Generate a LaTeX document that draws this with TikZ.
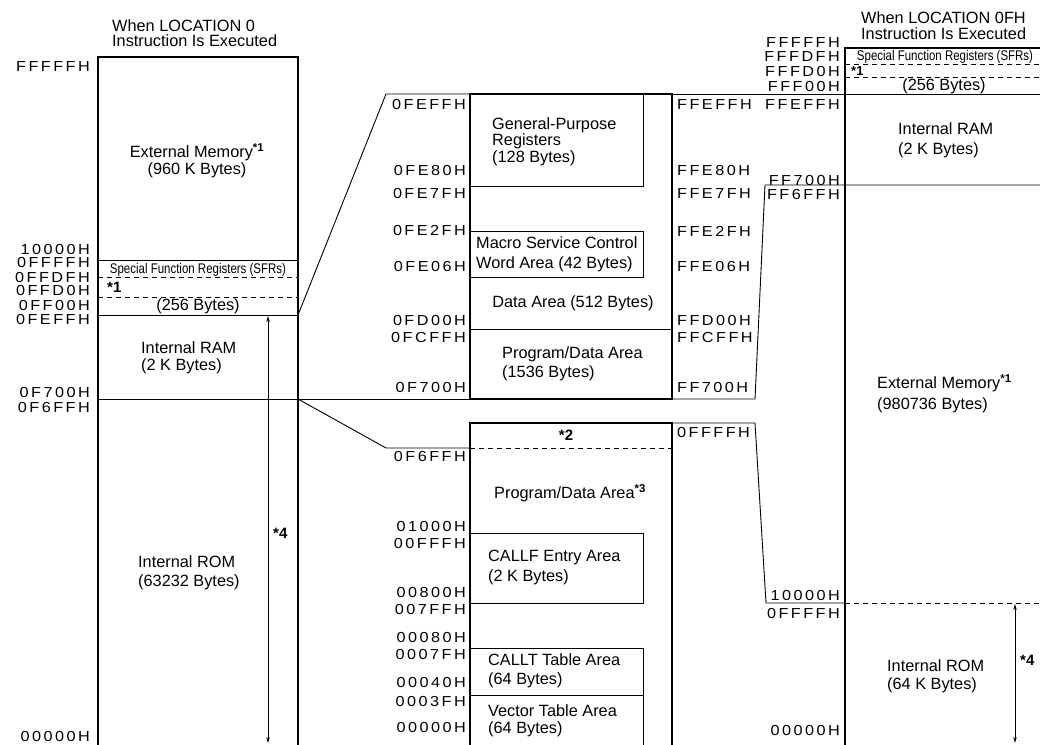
\documentclass[tikz,border=0pt]{standalone}
\usepackage{fontspec}
\setmainfont{Liberation Sans}
\newfontfamily\addrfont[LetterSpace=17, FakeStretch=1.12]{Liberation Sans}
\usetikzlibrary{arrows.meta}

\newcommand{\adfont}{\fontsize{14.5}{15}\addrfont}
\newcommand{\sfrtext}{\scalebox{0.82}[1]{Special Function Registers (SFRs)}}
\newcommand{\sups}[1]{\textsuperscript{\bfseries #1}}

\tikzset{
  mbox/.style={line width=1.8pt},
  rule/.style={line width=0.9pt},
  dashln/.style={line width=0.9pt, dash pattern=on 5pt off 4pt},
  addr/.style={font=\adfont, inner sep=0pt, anchor=east},
  addrw/.style={font=\adfont, inner sep=0pt, anchor=west},
  lbl/.style={font=\fontsize{16.3}{#1}\selectfont, inner sep=0pt, align=left, anchor=west},
  lbl/.default=18,
  lblc/.style={font=\fontsize{16.3}{17}\selectfont, inner sep=0pt, align=center},
  note/.style={font=\fontsize{15}{16}\selectfont\bfseries, inner sep=0pt},
  sfr/.style={font=\fontsize{14}{15}\selectfont, inner sep=0pt},
}

\begin{document}
\begin{tikzpicture}[x=1pt, y=-1pt, >={Stealth[length=6pt,width=3.5pt]}]
  \useasboundingbox (0,0) rectangle (1040,744);

  % left map (LOCATION 0)
  \draw[mbox] (98,750) |- (298,57) -- (298,750);
  \draw[rule] (98,260) -- (298,260);
  \draw[dashln] (98,277) -- (298,277);
  \draw[dashln] (98,297) -- (298,297);
  \draw[rule] (98,315) -- (298,315);
  \draw[rule] (98,399) -- (470,399);
  \draw[rule,<->] (268,316) -- (268,743);

  % zoom lines to the middle maps
  \draw[rule] (298,315) -- (386,94) -- (470,94);
  \draw[rule] (298,399) -- (386,448) -- (470,448);

  % middle upper map
  \draw[mbox] (470,94) rectangle (672,399);
  \draw[rule] (470,186) -| (643,94);
  \draw[rule] (470,231) -| (643,277) -- (470,277);
  \draw[rule] (470,329) -- (672,329);
  \draw[rule] (672,94.5) -- (1040,94.5);
  \draw[rule] (672,399) -- (755,399) -- (765,185) -- (1040,185);

  % middle lower map
  \draw[mbox] (470,750) |- (672,423) -- (672,750);
  \draw[dashln] (470,448) -- (672,448);
  \draw[rule] (470,533) -| (643,603) -- (470,603);
  \draw[rule] (470,648) -| (643,750);
  \draw[rule] (470,695) -- (643,695);
  \draw[rule] (672,423) -- (755,423) -- (766,603) -- (845,603);
  \draw[dashln] (845,603) -- (1040,603);

  % right map (LOCATION 0FH)
  \draw[mbox] (845,750) |- (1045,48);
  \draw[dashln] (845,64) -- (1040,64);
  \draw[dashln] (845,77) -- (1040,77);
  \draw[rule,<->] (1015,604) -- (1015,743);

  % left texts
  \node[lbl=15] (hdl) at (112,33.5) {When LOCATION 0\\Instruction Is Executed};
  \node[lblc] (extl) at (197,161) {External Memory\sups{*1}\\(960 K Bytes)};
  \node[sfr] (sfrl) at (198,270) {\sfrtext};
  \node[note, anchor=west] (n1l) at (107,287) {*1};
  \node[lblc] (sfrsl) at (198,306) {(256 Bytes)};
  \node[lbl=17] (raml) at (141,357.5) {Internal RAM\\(2 K Bytes)};
  \node[lbl=19] (roml) at (138,573) {Internal ROM\\(63232 Bytes)};
  \node[note, anchor=west] (n4l) at (273,533) {*4};

  \node[addr] (a1) at (90,67) {FFFFFH};
  \node[addr] (a2) at (90,250) {10000H};
  \node[addr] (a3) at (90,262.5) {0FFFFH};
  \node[addr] (a4) at (90,277.5) {0FFDFH};
  \node[addr] (a5) at (90,291) {0FFD0H};
  \node[addr] (a6) at (90,306) {0FF00H};
  \node[addr] (a7) at (90,320) {0FEFFH};
  \node[addr] (a8) at (90,393) {0F700H};
  \node[addr] (a9) at (90,408) {0F6FFH};
  \node[addr] (a10) at (90,736) {00000H};

  % middle texts
  \node[lbl=16.5] (gpr) at (492,141.7) {General-Purpose\\Registers\\(128 Bytes)};
  \node[lbl=20] (msc) at (476,254.5) {Macro Service Control\\Word Area (42 Bytes)};
  \node[lblc] (data) at (573,303) {Data Area (512 Bytes)};
  \node[lbl=19] (pdu) at (502,363.5) {Program/Data Area\\(1536 Bytes)};
  \node[note] (n2) at (566,435) {*2};
  \node[lbl] (pdl) at (494,493) {Program/Data Area\sups{*3}};
  \node[lbl=20] (callf) at (488,567) {CALLF Entry Area\\(2 K Bytes)};
  \node[lbl=18.5] (callt) at (488,671) {CALLT Table Area\\(64 Bytes)};
  \node[lbl=17.5] (vect) at (488,721) {Vector Table Area\\(64 Bytes)};

  \node[addr] (b1) at (466,105) {0FEFFH};
  \node[addr] (b2) at (466,171) {0FE80H};
  \node[addr] (b3) at (466,194) {0FE7FH};
  \node[addr] (b4) at (466,231) {0FE2FH};
  \node[addr] (b5) at (466,267) {0FE06H};
  \node[addr] (b6) at (466,321) {0FD00H};
  \node[addr] (b7) at (466,338) {0FCFFH};
  \node[addr] (b8) at (466,388) {0F700H};
  \node[addr] (b9) at (466,457) {0F6FFH};
  \node[addr] (b10) at (466,526) {01000H};
  \node[addr] (b11) at (466,543) {00FFFH};
  \node[addr] (b12) at (466,592) {00800H};
  \node[addr] (b13) at (466,609) {007FFH};
  \node[addr] (b14) at (466,637) {00080H};
  \node[addr] (b15) at (466,654) {0007FH};
  \node[addr] (b16) at (466,682) {00040H};
  \node[addr] (b17) at (466,701) {0003FH};
  \node[addr] (b18) at (466,727) {00000H};

  \node[addrw] (c1) at (677,105) {FFEFFH};
  \node[addrw] (c2) at (677,171) {FFE80H};
  \node[addrw] (c3) at (677,194) {FFE7FH};
  \node[addrw] (c4) at (677,231) {FFE2FH};
  \node[addrw] (c5) at (677,267) {FFE06H};
  \node[addrw] (c6) at (677,321) {FFD00H};
  \node[addrw] (c7) at (677,338) {FFCFFH};
  \node[addrw] (c8) at (677,388) {FF700H};
  \node[addrw] (c9) at (677,433) {0FFFFH};

  % right texts
  \node[lbl=16.7] (hdr) at (861,25.7) {When LOCATION 0FH\\Instruction Is Executed};
  \node[sfr] (sfrr) at (945,57) {\sfrtext};
  \node[note, anchor=west, font=\fontsize{13}{14}\selectfont\bfseries] (n1r) at (851,71) {*1};
  \node[lblc] (sfrsr) at (944,86) {(256 Bytes)};
  \node[lbl=20] (ramr) at (898,140) {Internal RAM\\(2 K Bytes)};
  \node[lbl=20.5] (extr) at (877,393.5) {External Memory\sups{*1}\\(980736 Bytes)};
  \node[lbl=18] (romr) at (887,676) {Internal ROM\\(64 K Bytes)};
  \node[note, anchor=west] (n4r) at (1020,660) {*4};

  \node[addr] (d1) at (840,43) {FFFFFH};
  \node[addr] (d2) at (840,57) {FFFDFH};
  \node[addr] (d3) at (840,72) {FFFD0H};
  \node[addr] (d4) at (840,87) {FFF00H};
  \node[addr] (d5) at (840,105) {FFEFFH};
  \node[addr] (d6) at (840,181) {FF700H};
  \node[addr] (d7) at (840,195) {FF6FFH};
  \node[addr] (d8) at (840,595) {10000H};
  \node[addr] (d9) at (840,613) {0FFFFH};
  \node[addr] (d10) at (840,730) {00000H};
\end{tikzpicture}
\end{document}
